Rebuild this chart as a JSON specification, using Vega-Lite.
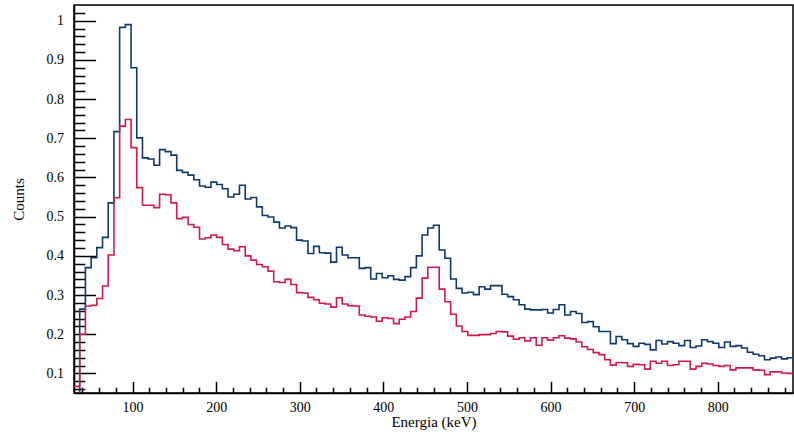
{
  "$schema": "https://vega.github.io/schema/vega-lite/v6.json",
  "width": 719,
  "height": 388,
  "autosize": {"type": "none"},
  "padding": {"left": 74, "top": 5, "right": 1, "bottom": 44},
  "background": "white",
  "config": {
    "view": {"stroke": "black", "strokeWidth": 1.5},
    "font": "Liberation Serif",
    "axis": {
      "grid": false,
      "domainColor": "black",
      "domainWidth": 1.5,
      "tickColor": "black",
      "tickWidth": 1.5,
      "labelColor": "black",
      "labelFont": "Liberation Serif",
      "labelFontSize": 14,
      "titleFont": "Liberation Serif",
      "titleFontSize": 15,
      "titleFontWeight": "normal",
      "titleColor": "black"
    }
  },
  "data": {
    "values": [
      {"E": 30.00, "b": 0.0, "r": 0.067},
      {"E": 36.83, "b": 0.264, "r": 0.200},
      {"E": 43.65, "b": 0.370, "r": 0.272},
      {"E": 50.48, "b": 0.395, "r": 0.274},
      {"E": 57.30, "b": 0.421, "r": 0.291},
      {"E": 64.13, "b": 0.447, "r": 0.323},
      {"E": 70.95, "b": 0.535, "r": 0.402},
      {"E": 77.78, "b": 0.717, "r": 0.548},
      {"E": 84.60, "b": 0.983, "r": 0.731},
      {"E": 91.43, "b": 0.990, "r": 0.748},
      {"E": 98.25, "b": 0.880, "r": 0.676},
      {"E": 105.08, "b": 0.701, "r": 0.574},
      {"E": 111.90, "b": 0.650, "r": 0.529},
      {"E": 118.73, "b": 0.647, "r": 0.529},
      {"E": 125.56, "b": 0.631, "r": 0.523},
      {"E": 132.38, "b": 0.671, "r": 0.557},
      {"E": 139.21, "b": 0.666, "r": 0.556},
      {"E": 146.03, "b": 0.657, "r": 0.535},
      {"E": 152.86, "b": 0.618, "r": 0.495},
      {"E": 159.68, "b": 0.613, "r": 0.498},
      {"E": 166.51, "b": 0.606, "r": 0.480},
      {"E": 173.33, "b": 0.594, "r": 0.473},
      {"E": 180.16, "b": 0.578, "r": 0.443},
      {"E": 186.98, "b": 0.575, "r": 0.446},
      {"E": 193.81, "b": 0.588, "r": 0.453},
      {"E": 200.63, "b": 0.582, "r": 0.447},
      {"E": 207.46, "b": 0.571, "r": 0.429},
      {"E": 214.29, "b": 0.550, "r": 0.417},
      {"E": 221.11, "b": 0.557, "r": 0.413},
      {"E": 227.94, "b": 0.580, "r": 0.423},
      {"E": 234.76, "b": 0.545, "r": 0.400},
      {"E": 241.59, "b": 0.549, "r": 0.389},
      {"E": 248.41, "b": 0.525, "r": 0.378},
      {"E": 255.24, "b": 0.503, "r": 0.372},
      {"E": 262.06, "b": 0.499, "r": 0.361},
      {"E": 268.89, "b": 0.486, "r": 0.334},
      {"E": 275.71, "b": 0.471, "r": 0.332},
      {"E": 282.54, "b": 0.476, "r": 0.340},
      {"E": 289.37, "b": 0.472, "r": 0.327},
      {"E": 296.19, "b": 0.440, "r": 0.306},
      {"E": 303.02, "b": 0.438, "r": 0.305},
      {"E": 309.84, "b": 0.406, "r": 0.294},
      {"E": 316.67, "b": 0.424, "r": 0.288},
      {"E": 323.49, "b": 0.408, "r": 0.279},
      {"E": 330.32, "b": 0.407, "r": 0.277},
      {"E": 337.14, "b": 0.384, "r": 0.269},
      {"E": 343.97, "b": 0.422, "r": 0.293},
      {"E": 350.79, "b": 0.402, "r": 0.277},
      {"E": 357.62, "b": 0.395, "r": 0.273},
      {"E": 364.44, "b": 0.395, "r": 0.272},
      {"E": 371.27, "b": 0.368, "r": 0.249},
      {"E": 378.10, "b": 0.370, "r": 0.246},
      {"E": 384.92, "b": 0.341, "r": 0.244},
      {"E": 391.75, "b": 0.355, "r": 0.233},
      {"E": 398.57, "b": 0.344, "r": 0.242},
      {"E": 405.40, "b": 0.349, "r": 0.240},
      {"E": 412.22, "b": 0.340, "r": 0.227},
      {"E": 419.05, "b": 0.338, "r": 0.238},
      {"E": 425.87, "b": 0.347, "r": 0.244},
      {"E": 432.70, "b": 0.370, "r": 0.258},
      {"E": 439.52, "b": 0.400, "r": 0.292},
      {"E": 446.35, "b": 0.453, "r": 0.343},
      {"E": 453.17, "b": 0.471, "r": 0.371},
      {"E": 460.00, "b": 0.478, "r": 0.371},
      {"E": 466.83, "b": 0.415, "r": 0.315},
      {"E": 473.65, "b": 0.394, "r": 0.283},
      {"E": 480.48, "b": 0.341, "r": 0.251},
      {"E": 487.30, "b": 0.317, "r": 0.221},
      {"E": 494.13, "b": 0.305, "r": 0.207},
      {"E": 500.95, "b": 0.307, "r": 0.197},
      {"E": 507.78, "b": 0.301, "r": 0.197},
      {"E": 514.60, "b": 0.321, "r": 0.199},
      {"E": 521.43, "b": 0.315, "r": 0.199},
      {"E": 528.25, "b": 0.324, "r": 0.202},
      {"E": 535.08, "b": 0.324, "r": 0.207},
      {"E": 541.90, "b": 0.302, "r": 0.206},
      {"E": 548.73, "b": 0.296, "r": 0.195},
      {"E": 555.56, "b": 0.288, "r": 0.187},
      {"E": 562.38, "b": 0.275, "r": 0.191},
      {"E": 569.21, "b": 0.264, "r": 0.183},
      {"E": 576.03, "b": 0.262, "r": 0.191},
      {"E": 582.86, "b": 0.262, "r": 0.172},
      {"E": 589.68, "b": 0.263, "r": 0.191},
      {"E": 596.51, "b": 0.254, "r": 0.185},
      {"E": 603.33, "b": 0.263, "r": 0.191},
      {"E": 610.16, "b": 0.275, "r": 0.196},
      {"E": 616.98, "b": 0.249, "r": 0.190},
      {"E": 623.81, "b": 0.258, "r": 0.188},
      {"E": 630.63, "b": 0.253, "r": 0.180},
      {"E": 637.46, "b": 0.230, "r": 0.168},
      {"E": 644.29, "b": 0.232, "r": 0.161},
      {"E": 651.11, "b": 0.219, "r": 0.153},
      {"E": 657.94, "b": 0.207, "r": 0.148},
      {"E": 664.76, "b": 0.207, "r": 0.135},
      {"E": 671.59, "b": 0.176, "r": 0.121},
      {"E": 678.41, "b": 0.194, "r": 0.128},
      {"E": 685.24, "b": 0.186, "r": 0.127},
      {"E": 692.06, "b": 0.176, "r": 0.118},
      {"E": 698.89, "b": 0.169, "r": 0.123},
      {"E": 705.71, "b": 0.177, "r": 0.122},
      {"E": 712.54, "b": 0.174, "r": 0.111},
      {"E": 719.37, "b": 0.160, "r": 0.131},
      {"E": 726.19, "b": 0.184, "r": 0.126},
      {"E": 733.02, "b": 0.175, "r": 0.131},
      {"E": 739.84, "b": 0.181, "r": 0.120},
      {"E": 746.67, "b": 0.177, "r": 0.122},
      {"E": 753.49, "b": 0.171, "r": 0.131},
      {"E": 760.32, "b": 0.184, "r": 0.131},
      {"E": 767.14, "b": 0.166, "r": 0.111},
      {"E": 773.97, "b": 0.170, "r": 0.118},
      {"E": 780.79, "b": 0.186, "r": 0.126},
      {"E": 787.62, "b": 0.181, "r": 0.124},
      {"E": 794.44, "b": 0.177, "r": 0.120},
      {"E": 801.27, "b": 0.166, "r": 0.118},
      {"E": 808.10, "b": 0.180, "r": 0.120},
      {"E": 814.92, "b": 0.169, "r": 0.109},
      {"E": 821.75, "b": 0.171, "r": 0.114},
      {"E": 828.57, "b": 0.165, "r": 0.114},
      {"E": 835.40, "b": 0.154, "r": 0.114},
      {"E": 842.22, "b": 0.149, "r": 0.109},
      {"E": 849.05, "b": 0.145, "r": 0.108},
      {"E": 855.87, "b": 0.135, "r": 0.097},
      {"E": 862.70, "b": 0.139, "r": 0.104},
      {"E": 869.52, "b": 0.142, "r": 0.104},
      {"E": 876.35, "b": 0.137, "r": 0.101},
      {"E": 883.17, "b": 0.140, "r": 0.100},
      {"E": 890.00, "b": 0.140, "r": 0.100}
    ]
  },
  "layer": [
    {
      "mark": {"type": "line", "interpolate": "step-after", "color": "#0d3a6c", "strokeWidth": 1.6, "clip": true},
      "encoding": {
        "x": {
          "field": "E", "type": "quantitative",
          "scale": {"domain": [30, 890], "nice": false, "zero": false},
          "axis": {"orient": "bottom", "title": "Energia (keV)", "values": [100, 200, 300, 400, 500, 600, 700, 800], "tickSize": -11.6, "labelPadding": 19, "titlePadding": 0, "domain": true}
        },
        "y": {
          "field": "b", "type": "quantitative",
          "scale": {"domain": [0.05, 1.04], "nice": false, "zero": false},
          "axis": {"orient": "left", "title": "Counts", "values": [0.1, 0.2, 0.3, 0.4, 0.5, 0.6, 0.7, 0.8, 0.9, 1.0], "format": "~g", "tickSize": -21.6, "labelPadding": 32, "titlePadding": 20, "domain": true}
        }
      }
    },
    {
      "mark": {"type": "line", "interpolate": "step-after", "color": "#d6174a", "strokeWidth": 1.6, "clip": true},
      "encoding": {
        "x": {
          "field": "E", "type": "quantitative",
          "scale": {"domain": [30, 890], "nice": false, "zero": false},
          "axis": {"orient": "bottom", "title": null, "labels": false, "domain": false, "values": [40, 60, 80, 120, 140, 160, 180, 220, 240, 260, 280, 320, 340, 360, 380, 420, 440, 460, 480, 520, 540, 560, 580, 620, 640, 660, 680, 720, 740, 760, 780, 820, 840, 860, 880], "tickSize": -5.8}
        },
        "y": {
          "field": "r", "type": "quantitative",
          "scale": {"domain": [0.05, 1.04], "nice": false, "zero": false},
          "axis": {"orient": "left", "title": null, "labels": false, "domain": false, "values": [0.06, 0.08, 0.12, 0.14, 0.16, 0.18, 0.22, 0.24, 0.26, 0.28, 0.32, 0.34, 0.36, 0.38, 0.42, 0.44, 0.46, 0.48, 0.52, 0.54, 0.56, 0.58, 0.62, 0.64, 0.66, 0.68, 0.72, 0.74, 0.76, 0.78, 0.82, 0.84, 0.86, 0.88, 0.92, 0.94, 0.96, 0.98, 1.02], "tickSize": -10.8}
        }
      }
    }
  ],
  "resolve": {"axis": {"x": "independent", "y": "independent"}}
}
